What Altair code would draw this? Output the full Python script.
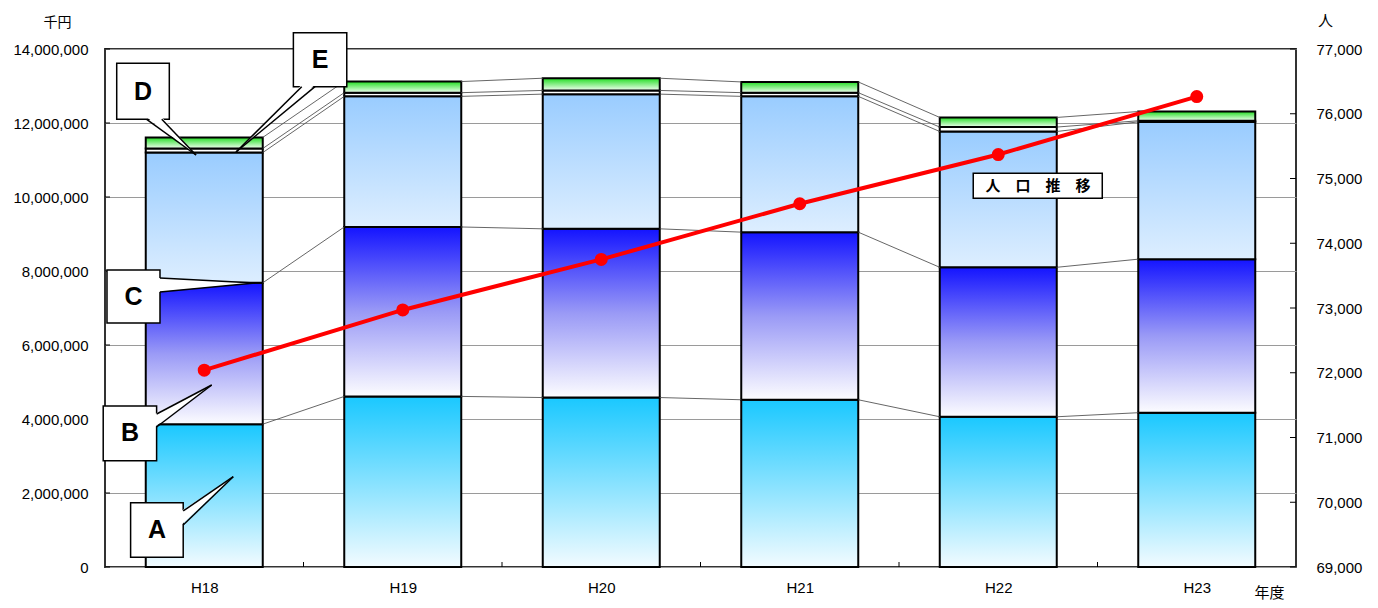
import altair as alt
import pandas as pd
import numpy as np

# ---------------- data ----------------
years = ["H18", "H19", "H20", "H21", "H22", "H23"]
seg_a = [3860000, 4610000, 4580000, 4520000, 4060000, 4170000]
seg_b = [3820000, 4580000, 4560000, 4530000, 4040000, 4150000]
seg_c = [3520000, 3530000, 3640000, 3670000, 3670000, 3710000]
seg_d = [110000, 100000, 100000, 100000, 120000, 30000]
seg_e = [300000, 300000, 330000, 290000, 260000, 250000]
population = [72040, 72970, 73750, 74610, 75370, 76265]
series_names = ["A", "B", "C", "D", "E"]
series_values = [seg_a, seg_b, seg_c, seg_d, seg_e]

# ---------------- layout / style constants ----------------
HALF = 0.2947  # half bar width in category units
FONT = "Liberation Sans"
JFONT = "Noto Sans CJK JP"

rows = []
cum = np.zeros(len(years))
for name, vals in zip(series_names, series_values):
    v = np.array(vals, dtype=float)
    for i in range(len(years)):
        rows.append(dict(idx=i, series=name, y0=cum[i], y1=cum[i] + v[i],
                         x0=i - HALF, x1=i + HALF))
    cum = cum + v
bars_df = pd.DataFrame(rows)

conn_rows = []
for name in series_names:
    sub = bars_df[bars_df.series == name].sort_values("idx")
    for i in range(len(years) - 1):
        conn_rows.append(dict(series=name, xa=i + HALF, xb=i + 1 - HALF,
                              ya=sub.y1.iloc[i], yb=sub.y1.iloc[i + 1]))
conn_df = pd.DataFrame(conn_rows)

pop_df = pd.DataFrame({"idx": list(range(len(years))), "pop": population})

xscale = alt.Scale(domain=[-0.5, 5.5], nice=False, zero=False)
yscale = alt.Scale(domain=[0, 14000000], nice=False, zero=False)
pscale = alt.Scale(domain=[69000, 77000], nice=False, zero=False)

label_expr = "[" + ",".join("'%s'" % y for y in years) + "][datum.value]"
xaxis = alt.Axis(values=list(range(len(years))), labelExpr=label_expr, grid=False,
                 ticks=False, domain=False, labelFont=FONT, labelFontSize=15,
                 labelColor="black", labelPadding=13, title="年度", titleFont=JFONT,
                 titleFontSize=15, titleFontWeight="normal", titleColor="black",
                 titleX=1164, titleY=33, titleAlign="center", titleBaseline="bottom")
yaxis = alt.Axis(orient="left", values=list(range(0, 14000001, 2000000)), format=",.0f",
                 grid=True, gridColor="#9a9a9a", gridWidth=1, ticks=False, domain=False,
                 labelFont=FONT, labelFontSize=15, labelColor="black", labelPadding=17,
                 title="千円", titleAngle=0, titleX=-48, titleY=-27, titleFont=JFONT,
                 titleFontSize=14, titleFontWeight="normal", titleColor="black",
                 titleAlign="center", titleBaseline="middle")
paxis = alt.Axis(orient="right", values=list(range(69000, 77001, 1000)), format=",.0f",
                 grid=False, ticks=False, domain=False, labelFont=FONT, labelFontSize=15,
                 labelColor="black", labelPadding=20, title="人", titleAngle=0,
                 titleX=29, titleY=-29, titleFont=JFONT, titleFontSize=15,
                 titleFontWeight="normal", titleColor="black", titleAlign="center",
                 titleBaseline="middle")


def grad(stops):
    return alt.Gradient(gradient="linear", x1=0, x2=0, y1=0, y2=1,
                        stops=[alt.GradientStop(offset=o, color=c) for o, c in stops])


fills = {
    "A": grad([(0, "#1AC8FF"), (1, "#F2FBFF")]),
    "B": grad([(0, "#1414FF"), (0.5, "#9A9AF6"), (1, "#FCFCFF")]),
    "C": grad([(0, "#99CCFF"), (1, "#DDEEFF")]),
    "D": "#FFFFFF",
    "E": grad([(0, "#22DD22"), (1, "#F2FFF2")]),
}

layers = []
# bars (first bar layer carries the left and bottom axes)
for n, name in enumerate(series_names):
    layers.append(alt.Chart(bars_df).transform_filter(alt.datum.series == name)
                  .mark_bar(fill=fills[name], stroke="black", strokeWidth=2)
                  .encode(x=alt.X("x0:Q", scale=xscale, axis=xaxis if n == 0 else None),
                          x2="x1:Q",
                          y=alt.Y("y0:Q", scale=yscale, axis=yaxis if n == 0 else None),
                          y2="y1:Q"))

# connector (series) lines
layers.append(alt.Chart(conn_df).mark_rule(color="#555555", strokeWidth=0.9).encode(
    x=alt.X("xa:Q", scale=xscale, axis=None), x2="xb:Q",
    y=alt.Y("ya:Q", scale=yscale, axis=None), y2="yb:Q"))

# inner axis ticks (left, bottom, right)
lt_df = pd.DataFrame({"v": list(range(0, 14000001, 2000000))})
layers.append(alt.Chart(lt_df).mark_rule(color="black", strokeWidth=1).encode(
    x=alt.value(0), x2=alt.value(5), y=alt.Y("v:Q", scale=yscale, axis=None)))
bt_df = pd.DataFrame({"b": [i + 0.5 for i in range(len(years) - 1)]})
layers.append(alt.Chart(bt_df).mark_rule(color="black", strokeWidth=1).encode(
    x=alt.X("b:Q", scale=xscale, axis=None), y=alt.value(518), y2=alt.value(513)))
ptk_df = pd.DataFrame({"v": list(range(69000, 77001, 1000))})
layers.append(alt.Chart(ptk_df).mark_rule(color="black", strokeWidth=1).encode(
    x=alt.value(1185), x2=alt.value(1191), y=alt.Y("v:Q", scale=pscale, axis=None)))

# population line (right axis)
layers.append(alt.Chart(pop_df).mark_line(color="#FF0000", strokeWidth=4).encode(
    x=alt.X("idx:Q", scale=xscale, axis=None),
    y=alt.Y("pop:Q", scale=pscale, axis=paxis)))
layers.append(alt.Chart(pop_df).mark_circle(size=170, color="#FF0000", opacity=1).encode(
    x=alt.X("idx:Q", scale=xscale, axis=None),
    y=alt.Y("pop:Q", scale=pscale, axis=None)))

# ---------------- annotations (callouts) ----------------
boxes = pd.DataFrame([
    dict(k="A", xa=-0.371, xb=-0.106, ya=0.262e6, yb=1.738e6, tx=-0.238, ty=1.00e6),
    dict(k="B", xa=-0.509, xb=-0.240, ya=2.873e6, yb=4.351e6, tx=-0.374, ty=3.62e6),
    dict(k="C", xa=-0.490, xb=-0.223, ya=6.595e6, yb=8.027e6, tx=-0.356, ty=7.30e6),
    dict(k="D", xa=-0.441, xb=-0.176, ya=12.100e6, yb=13.614e6, tx=-0.309, ty=12.84e6),
    dict(k="E", xa=0.449, xb=0.718, ya=12.981e6, yb=14.441e6, tx=0.583, ty=13.70e6),
])
vwedge = pd.DataFrame([
    dict(k="A", x=-0.116, lo=1.135e6, hi=1.514e6), dict(k="A", x=0.146, lo=2.441e6, hi=2.441e6),
    dict(k="B", x=-0.250, lo=3.784e6, hi=4.135e6), dict(k="B", x=0.0375, lo=4.919e6, hi=4.919e6),
    dict(k="C", x=-0.233, lo=7.432e6, hi=7.811e6), dict(k="C", x=0.256, lo=7.676e6, hi=7.676e6),
])
hwedge = pd.DataFrame([
    dict(k="D", y=12.154e6, lo=-0.290, hi=-0.214), dict(k="D", y=11.135e6, lo=-0.0416, hi=-0.0416),
    dict(k="E", y=13.035e6, lo=0.491, hi=0.558), dict(k="E", y=11.216e6, lo=0.160, hi=0.160),
])
wedge_edges = pd.DataFrame([
    dict(xa=-0.106, ya=1.514e6, xb=0.146, yb=2.441e6), dict(xa=-0.106, ya=1.135e6, xb=0.146, yb=2.441e6),
    dict(xa=-0.240, ya=4.135e6, xb=0.0375, yb=4.919e6), dict(xa=-0.240, ya=3.784e6, xb=0.0375, yb=4.919e6),
    dict(xa=-0.223, ya=7.811e6, xb=0.256, yb=7.676e6), dict(xa=-0.223, ya=7.432e6, xb=0.256, yb=7.676e6),
    dict(xa=-0.290, ya=12.100e6, xb=-0.0416, yb=11.135e6), dict(xa=-0.214, ya=12.100e6, xb=-0.0416, yb=11.135e6),
    dict(xa=0.491, ya=12.981e6, xb=0.160, yb=11.216e6), dict(xa=0.558, ya=12.981e6, xb=0.160, yb=11.216e6),
])
pop_label = pd.DataFrame([dict(xa=3.874, xb=4.524, ya=9.965e6, yb=10.641e6, tx=4.200,
                               ty=10.297e6, t="人　口　推　移")])

layers.append(alt.Chart(boxes).mark_rect(fill="white", stroke="black", strokeWidth=1.5, clip=False).encode(
    x=alt.X("xa:Q", scale=xscale, axis=None), x2="xb:Q",
    y=alt.Y("ya:Q", scale=yscale, axis=None), y2="yb:Q"))
layers.append(alt.Chart(vwedge).mark_area(color="white", orient="vertical", clip=False).encode(
    x=alt.X("x:Q", scale=xscale, axis=None),
    y=alt.Y("lo:Q", scale=yscale, axis=None), y2="hi:Q", detail="k:N"))
layers.append(alt.Chart(hwedge).mark_area(color="white", orient="horizontal", clip=False).encode(
    y=alt.Y("y:Q", scale=yscale, axis=None),
    x=alt.X("lo:Q", scale=xscale, axis=None), x2="hi:Q", detail="k:N"))
layers.append(alt.Chart(wedge_edges).mark_rule(color="black", strokeWidth=1.5).encode(
    x=alt.X("xa:Q", scale=xscale, axis=None), x2="xb:Q",
    y=alt.Y("ya:Q", scale=yscale, axis=None), y2="yb:Q"))
layers.append(alt.Chart(boxes).mark_text(font=FONT, fontSize=25, fontWeight="bold", color="black",
                                         baseline="middle", align="center").encode(
    x=alt.X("tx:Q", scale=xscale, axis=None),
    y=alt.Y("ty:Q", scale=yscale, axis=None), text="k:N"))
layers.append(alt.Chart(pop_label).mark_rect(fill="white", stroke="black", strokeWidth=1.5).encode(
    x=alt.X("xa:Q", scale=xscale, axis=None), x2="xb:Q",
    y=alt.Y("ya:Q", scale=yscale, axis=None), y2="yb:Q"))
layers.append(alt.Chart(pop_label).mark_text(font=JFONT, fontSize=15, fontWeight="bold", color="black",
                                             baseline="middle", align="center").encode(
    x=alt.X("tx:Q", scale=xscale, axis=None),
    y=alt.Y("ty:Q", scale=yscale, axis=None), text="t:N"))

chart = alt.layer(*layers).resolve_scale(x="independent", y="independent").properties(
    width=1191, height=518, autosize="none",
    padding={"left": 97, "top": 41, "right": 74, "bottom": 33},
    background="white",
).configure_view(stroke="#333333", strokeWidth=2)

chart.save("out.html", embed_options={"renderer": "svg", "actions": False})
